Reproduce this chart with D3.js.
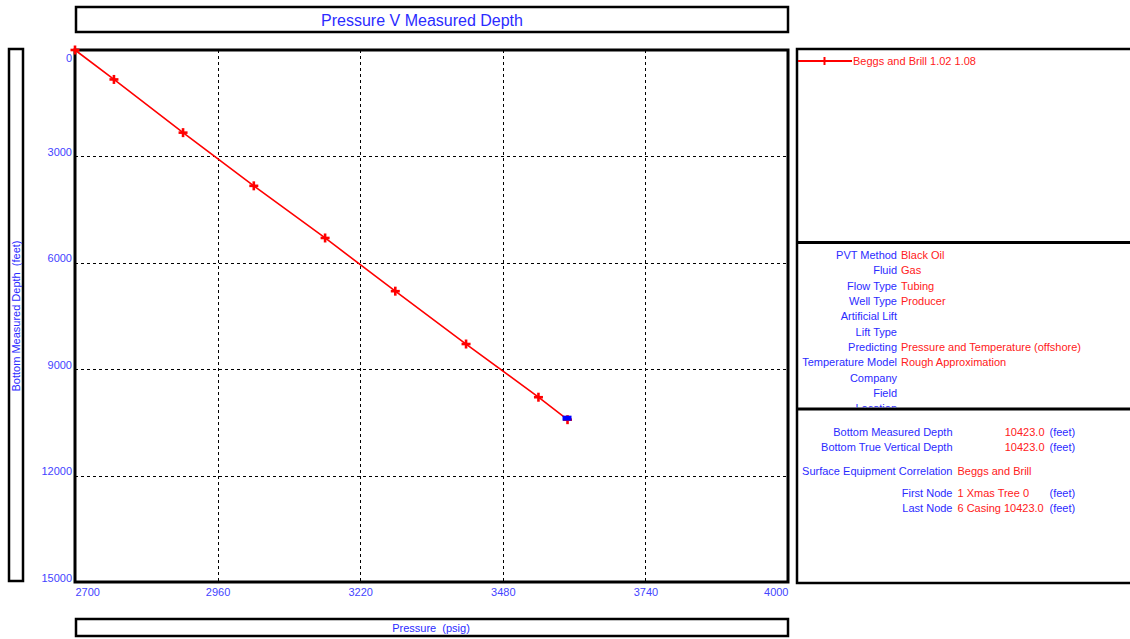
<!DOCTYPE html>
<html>
<head>
<meta charset="utf-8">
<script src="https://cdn.jsdelivr.net/npm/d3@7"></script>
<style>
  html, body { margin: 0; padding: 0; background: #fff; }
  svg { display: block; font-family: "Liberation Sans", Arial, sans-serif; }
  text { white-space: pre; }
</style>
</head>
<body>
<svg id="chart" width="1130" height="639"></svg>
<script>
// Pressure traverse: pressure (psig) against bottom measured depth (feet)
const pressure = [2700, 2771, 2897, 3026, 3156, 3284, 3413, 3545, 3598];
const depth    = [0, 830, 2330, 3830, 5300, 6800, 8290, 9790, 10423];

const xTicks = [2700, 2960, 3220, 3480, 3740, 4000];
const yTicks = [0, 3000, 6000, 9000, 12000, 15000];

const seriesName = "Beggs and Brill 1.02 1.08";

const infoLabels = ["PVT Method", "Fluid", "Flow Type", "Well Type", "Artificial Lift",
  "Lift Type", "Predicting", "Temperature Model", "Company", "Field", "Location"];
const infoValues = ["Black Oil", "Gas", "Tubing", "Producer", "", "",
  "Pressure and Temperature (offshore)", "Rough Approximation", "", "", ""];

const depthLabels = ["Bottom Measured Depth", "Bottom True Vertical Depth"];
const depthValues = ["10423.0", "10423.0"];
const corrLabel = "Surface Equipment Correlation";
const corrValue = "Beggs and Brill";
const nodeLabels = ["First Node", "Last Node"];
const nodeValues = ["1 Xmas Tree 0", "6 Casing 10423.0"];
const unit = "(feet)";

const BLUE = "#2b2bff", TICKBLUE = "#4444ff", RED = "#ff2020";

const svg = d3.select("#chart");
const plot = { left: 75, top: 50, right: 788, bottom: 582 };

const x = d3.scaleLinear().domain([2700, 4000]).range([plot.left, plot.right]);
const y = d3.scaleLinear().domain([0, 15000]).range([plot.top, plot.bottom]);

// Boxes: title, y-axis title, x-axis title, side panels
function box(x0, y0, w, h) {
  svg.append("rect").attr("x", x0).attr("y", y0).attr("width", w).attr("height", h)
    .attr("fill", "#fff").attr("stroke", "#000").attr("stroke-width", 2.5);
}
box(76, 7, 712, 25);
box(9, 49, 14, 532);
box(76, 619, 712, 17);
box(797, 49, 345, 534);
svg.append("line").attr("x1", 797).attr("x2", 1140).attr("y1", 242.5).attr("y2", 242.5)
  .attr("stroke", "#000").attr("stroke-width", 3);
svg.append("line").attr("x1", 797).attr("x2", 1140).attr("y1", 409).attr("y2", 409)
  .attr("stroke", "#000").attr("stroke-width", 3);

svg.append("text").attr("x", 422).attr("y", 26).attr("text-anchor", "middle")
  .attr("font-size", 16).attr("fill", BLUE).text("Pressure V Measured Depth");
svg.append("text").attr("transform", "translate(20,316) rotate(-90)").attr("text-anchor", "middle")
  .attr("font-size", 11).attr("fill", BLUE).text("Bottom Measured Depth  (feet)");
svg.append("text").attr("x", 431).attr("y", 632).attr("text-anchor", "middle")
  .attr("font-size", 11).attr("fill", BLUE).text("Pressure  (psig)");

// Plot frame and dashed grid
const g = svg.append("g");
g.append("rect").attr("x", plot.left).attr("y", plot.top)
  .attr("width", plot.right - plot.left).attr("height", plot.bottom - plot.top)
  .attr("fill", "#fff");
g.selectAll("line.vg").data(xTicks.slice(1, -1)).join("line").attr("class", "vg")
  .attr("x1", d => Math.round(x(d)) + 0.5).attr("x2", d => Math.round(x(d)) + 0.5)
  .attr("y1", plot.top).attr("y2", plot.bottom)
  .attr("stroke", "#000").attr("stroke-width", 1).attr("stroke-dasharray", "3,3");
g.selectAll("line.hg").data(yTicks.slice(1, -1)).join("line").attr("class", "hg")
  .attr("y1", d => Math.round(y(d)) + 0.5).attr("y2", d => Math.round(y(d)) + 0.5)
  .attr("x1", plot.left).attr("x2", plot.right)
  .attr("stroke", "#000").attr("stroke-width", 1).attr("stroke-dasharray", "3,3");
g.append("rect").attr("x", plot.left).attr("y", plot.top)
  .attr("width", plot.right - plot.left).attr("height", plot.bottom - plot.top)
  .attr("fill", "none").attr("stroke", "#000").attr("stroke-width", 3);

// Axis tick labels (top label kept inside the frame)
const yAxis = d3.axisLeft(y).tickValues(yTicks).tickSize(0).tickPadding(3).tickFormat(d3.format("d"));
const ya = svg.append("g").attr("transform", `translate(${plot.left},0)`).call(yAxis);
ya.select(".domain").remove();
ya.selectAll("text").attr("font-size", 11).attr("font-family", null).attr("fill", TICKBLUE)
  .attr("dy", "0.32em")
  .attr("y", d => Math.max(-4.5, plot.top + 8 - y(d)));

const xAxis = d3.axisBottom(x).tickValues(xTicks).tickSize(0).tickPadding(6).tickFormat(d3.format("d"));
const xa = svg.append("g").attr("transform", `translate(0,${plot.bottom})`).call(xAxis);
xa.select(".domain").remove();
xa.selectAll("text").attr("font-size", 11).attr("font-family", null).attr("fill", TICKBLUE)
  .attr("text-anchor", (d, i) => i === 0 ? "start" : (i === xTicks.length - 1 ? "end" : "middle"));

// Traverse line and markers
const pts = pressure.map((p, i) => [p, depth[i]]);
const line = d3.line().x(d => x(d[0])).y(d => y(d[1]));
svg.append("path").datum(pts).attr("d", line).attr("fill", "none")
  .attr("stroke", "#ff0000").attr("stroke-width", 1.6);
const mk = svg.append("g").attr("stroke", "#ff0000").attr("stroke-width", 2.6);
pts.forEach(d => {
  const cx = x(d[0]), cy = y(d[1]);
  mk.append("line").attr("x1", cx - 4.5).attr("x2", cx + 4.5).attr("y1", cy).attr("y2", cy);
  mk.append("line").attr("x1", cx).attr("x2", cx).attr("y1", cy - 4.5).attr("y2", cy + 4.5);
});
const last = pts[pts.length - 1];
svg.append("rect").attr("x", x(last[0]) - 5).attr("y", y(last[1]) - 4)
  .attr("width", 9).attr("height", 5).attr("fill", "#0000ff");

// Legend
svg.append("line").attr("x1", 798).attr("x2", 852).attr("y1", 61).attr("y2", 61)
  .attr("stroke", "#ff0000").attr("stroke-width", 2);
svg.append("line").attr("x1", 824.5).attr("x2", 824.5).attr("y1", 57).attr("y2", 65)
  .attr("stroke", "#ff0000").attr("stroke-width", 2);
svg.append("text").attr("x", 853).attr("y", 61).attr("dy", "0.35em").attr("font-size", 11)
  .attr("fill", RED).text(seriesName);

// Run settings panel
svg.append("clipPath").attr("id", "infoClip").append("rect")
  .attr("x", 798).attr("y", 244).attr("width", 340).attr("height", 163.5);
const info = svg.append("g").attr("clip-path", "url(#infoClip)").attr("font-size", 11);
infoLabels.forEach((t, i) => {
  const cy = 255 + i * 15.35;
  info.append("text").attr("x", 897).attr("y", cy).attr("dy", "0.35em")
    .attr("text-anchor", "end").attr("fill", BLUE).text(t);
  if (infoValues[i]) info.append("text").attr("x", 901).attr("y", cy).attr("dy", "0.35em")
    .attr("fill", RED).text(infoValues[i]);
});

// Depth / node panel
const dp = svg.append("g").attr("font-size", 11);
function row(cy, label, value, withUnit, valueAnchor) {
  dp.append("text").attr("x", 952.5).attr("y", cy).attr("dy", "0.35em")
    .attr("text-anchor", "end").attr("fill", BLUE).text(label);
  dp.append("text").attr("x", valueAnchor === "end" ? 1044.5 : 957.5).attr("y", cy).attr("dy", "0.35em")
    .attr("text-anchor", valueAnchor).attr("fill", RED).text(value);
  if (withUnit) dp.append("text").attr("x", 1049.5).attr("y", cy).attr("dy", "0.35em")
    .attr("fill", BLUE).text(unit);
}
depthLabels.forEach((t, i) => row(431.7 + i * 15, t, depthValues[i], true, "end"));
row(470.7, corrLabel, corrValue, false, "start");
nodeLabels.forEach((t, i) => row(492.7 + i * 15.6, t, nodeValues[i], true, "start"));
</script>
</body>
</html>
